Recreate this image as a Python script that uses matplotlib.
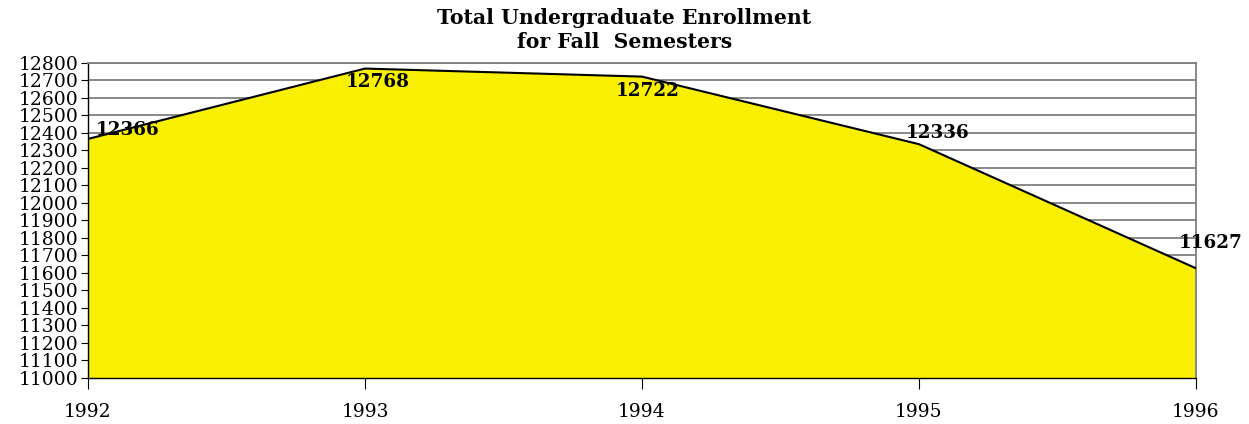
import numpy as np
import matplotlib.pyplot as plt

years = [1992, 1993, 1994, 1995, 1996]
enrollment = [12366, 12768, 12722, 12336, 11627]
label_offsets = [(40, 9), (13, -13), (6, -14), (19, 11), (15, 25)]

plt.rcParams['font.family'] = ['DejaVu Serif']

fig = plt.figure(figsize=(12.49, 4.24), dpi=100)
ax = fig.add_axes([0.0705, 0.1085, 0.887, 0.743])

ax.fill_between(years, enrollment, 11000, color='#F8F000', zorder=2)
ax.plot(years, enrollment, color='black', lw=1.5, zorder=3)

ax.set_xlim(1992, 1996)
ax.set_ylim(11000, 12800)
ax.set_yticks(np.arange(11000, 12801, 100))
ax.set_xticks(years)
ax.yaxis.grid(True, color='#808080', lw=1.3, zorder=1)
ax.set_axisbelow(True)

for s in ['top', 'right']:
    ax.spines[s].set_color('#808080')
    ax.spines[s].set_linewidth(1.3)
for s in ['left', 'bottom']:
    ax.spines[s].set_color('black')
    ax.spines[s].set_linewidth(1.0)
ax.spines['bottom'].set_zorder(4)

ax.tick_params(axis='y', labelsize=13.5, length=5, pad=2)
ax.tick_params(axis='x', labelsize=13.5, length=8, pad=10)

for x, y, (dx, dy) in zip(years, enrollment, label_offsets):
    ax.annotate(str(y), (x, y), xytext=(dx, dy), textcoords='offset pixels',
                ha='center', va='center', fontsize=13.2, fontweight='bold',
                zorder=5, annotation_clip=False)

fig.text(0.5, 0.982, 'Total Undergraduate Enrollment\nfor Fall  Semesters',
         ha='center', va='top', fontsize=14.7, fontweight='bold',
         linespacing=1.25)

fig.savefig('out.png', dpi=100)
